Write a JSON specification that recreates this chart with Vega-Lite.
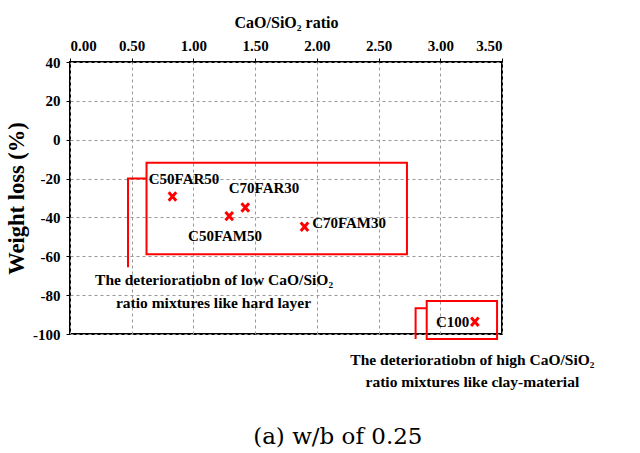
{
  "$schema": "https://vega.github.io/schema/vega-lite/v6.json",
  "width": 432,
  "height": 272,
  "autosize": "none",
  "padding": {"left": 70, "top": 62, "right": 138, "bottom": 119},
  "background": "white",
  "config": {
    "view": {"stroke": "black", "strokeWidth": 2},
    "font": "Liberation Serif"
  },
  "datasets": {
    "points": [
      {"mix": "C50FAR50", "ratio": 0.83, "loss": -29.2},
      {"mix": "C50FAM50", "ratio": 1.29, "loss": -39.3},
      {"mix": "C70FAR30", "ratio": 1.42, "loss": -34.9},
      {"mix": "C70FAM30", "ratio": 1.90, "loss": -44.8},
      {"mix": "C100", "ratio": 3.28, "loss": -93.7}
    ],
    "labels": [
      {"text": "C50FAR50", "ratio": 0.924, "loss": -20},
      {"text": "C70FAR30", "ratio": 1.572, "loss": -25.1},
      {"text": "C50FAM50", "ratio": 1.256, "loss": -49.7},
      {"text": "C70FAM30", "ratio": 2.261, "loss": -43.1},
      {"text": "C100", "ratio": 3.10, "loss": -93.8}
    ],
    "notes": [
      {"text": "The deterioratiobn of low CaO/SiO₂", "ratio": 1.167, "loss": -72.3},
      {"text": "ratio mixtures like hard layer", "ratio": 1.163, "loss": -84.0},
      {"text": "The deterioratiobn of high CaO/SiO₂", "ratio": 3.26, "loss": -113.3},
      {"text": "ratio mixtures like clay-material", "ratio": 3.26, "loss": -124.6}
    ],
    "boxes": [
      {"ratio": 0.62, "ratio2": 2.73, "loss": -11.8, "loss2": -59.0},
      {"ratio": 2.89, "ratio2": 3.46, "loss": -83.0, "loss2": -102.6}
    ],
    "brackets": [
      {"g": "a", "o": 1, "ratio": 0.62, "loss": -20},
      {"g": "a", "o": 2, "ratio": 0.47, "loss": -20},
      {"g": "a", "o": 3, "ratio": 0.47, "loss": -65.6},
      {"g": "b", "o": 1, "ratio": 2.89, "loss": -86.7},
      {"g": "b", "o": 2, "ratio": 2.80, "loss": -86.7},
      {"g": "b", "o": 3, "ratio": 2.80, "loss": -102.6}
    ],
    "caption": [
      {"text": "(a) w/b of 0.25", "ratio": 2.17, "loss": -152.8}
    ]
  },
  "encoding": {
    "x": {
      "field": "ratio", "type": "quantitative",
      "scale": {"domain": [0, 3.5], "nice": false, "zero": false},
      "axis": {
        "orient": "top", "values": [0, 0.5, 1, 1.5, 2, 2.5, 3, 3.5], "format": ".2f",
        "title": "CaO/SiO₂ ratio", "titleFont": "Liberation Serif", "titleFontSize": 16, "titleFontWeight": "bold", "titleColor": "black", "titlePadding": 8,
        "labelFont": "Liberation Serif", "labelFontSize": 15, "labelFontWeight": "bold", "labelColor": "black", "labelPadding": 5, "labelOverlap": false,
        "domain": false, "tickColor": "black", "tickSize": 4,
        "grid": true, "gridColor": "#999999", "gridDash": [3, 3], "gridWidth": 1
      }
    },
    "y": {
      "field": "loss", "type": "quantitative",
      "scale": {"domain": [-100, 40], "nice": false, "zero": false},
      "axis": {
        "values": [-100, -80, -60, -40, -20, 0, 20, 40],
        "labelExpr": "replace(format(datum.value, 'd'), '−', '-')",
        "title": "Weight loss (%)", "titleFont": "Liberation Serif", "titleFontSize": 22.5, "titleFontWeight": "bold", "titleColor": "black", "titlePadding": 4,
        "labelFont": "Liberation Serif", "labelFontSize": 15, "labelFontWeight": "bold", "labelColor": "black", "labelPadding": 6, "labelOverlap": false,
        "domain": false, "tickColor": "black", "tickSize": 4,
        "grid": true, "gridColor": "#999999", "gridDash": [3, 3], "gridWidth": 1
      }
    }
  },
  "layer": [
    {
      "data": {"name": "points"},
      "mark": {"type": "point", "shape": "M-0.9,-1L0.9,1M-0.9,1L0.9,-1M0,-0.6L0,0.6", "filled": false, "stroke": "#ff0000", "strokeWidth": 3, "size": 70, "opacity": 1, "clip": false}
    },
    {
      "data": {"name": "boxes"},
      "mark": {"type": "rect", "fill": null, "fillOpacity": 0, "stroke": "#ff0000", "strokeWidth": 2, "clip": false},
      "encoding": {
        "x2": {"field": "ratio2"},
        "y2": {"field": "loss2"}
      }
    },
    {
      "data": {"name": "brackets"},
      "mark": {"type": "line", "stroke": "#ff0000", "strokeWidth": 2, "clip": false},
      "encoding": {
        "detail": {"field": "g"},
        "order": {"field": "o"}
      }
    },
    {
      "data": {"name": "labels"},
      "mark": {"type": "text", "font": "Liberation Serif", "fontSize": 15, "fontWeight": "bold", "color": "black", "align": "center", "baseline": "middle", "clip": false},
      "encoding": {
        "text": {"field": "text"}
      }
    },
    {
      "data": {"name": "notes"},
      "mark": {"type": "text", "font": "Liberation Serif", "fontSize": 15.5, "fontWeight": "bold", "color": "black", "align": "center", "baseline": "middle", "clip": false},
      "encoding": {
        "text": {"field": "text"}
      }
    },
    {
      "data": {"name": "caption"},
      "mark": {"type": "text", "font": "DejaVu Serif", "fontSize": 23, "color": "black", "align": "center", "baseline": "middle", "clip": false},
      "encoding": {
        "text": {"field": "text"}
      }
    }
  ]
}
